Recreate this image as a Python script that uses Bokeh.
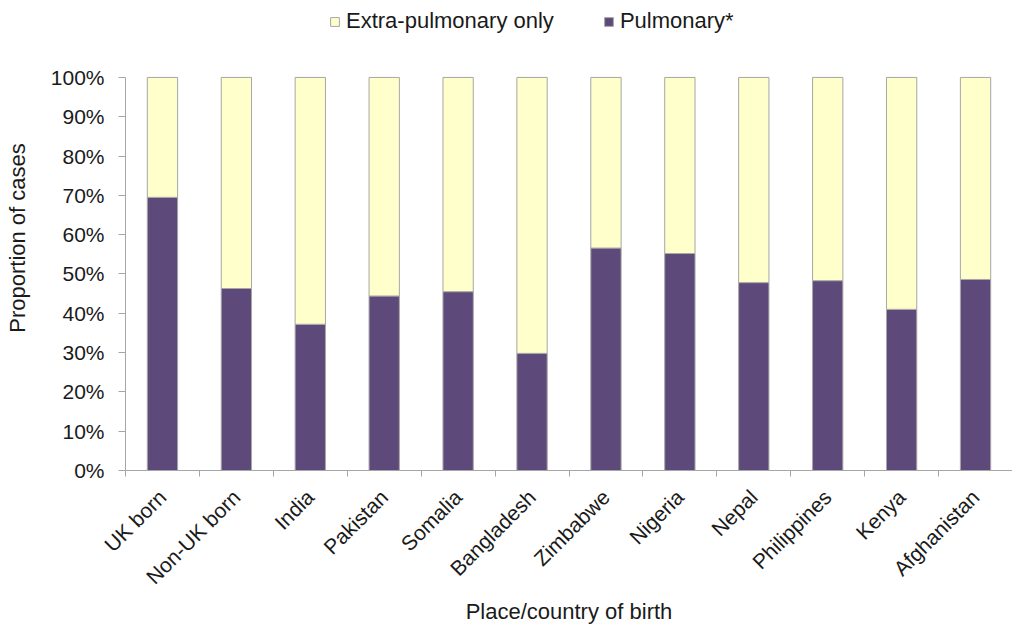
from bokeh.plotting import figure
from bokeh.models import Range1d, FixedTicker, Legend, LegendItem, PrintfTickFormatter, ColumnDataSource
from bokeh.embed import file_html
from bokeh.resources import INLINE
import math

categories = ["UK born", "Non-UK born", "India", "Pakistan", "Somalia", "Bangladesh",
              "Zimbabwe", "Nigeria", "Nepal", "Philippines", "Kenya", "Afghanistan"]
pulmonary = [69.5, 46.3, 37.2, 44.4, 45.5, 29.8, 56.6, 55.2, 47.8, 48.3, 41.0, 48.6]
extra_pulmonary = [30.5, 53.7, 62.8, 55.6, 54.5, 70.2, 43.4, 44.8, 52.2, 51.7, 59.0, 51.4]
y_ticks = [0, 10, 20, 30, 40, 50, 60, 70, 80, 90, 100]

FONT = "Liberation Sans"
PURPLE = "#5e4a7a"
YELLOW = "#ffffcc"
EDGE = "#a6a6a6"
AXIS = "#a6a6a6"
TEXT = "#1a1a1a"

n = len(categories)
xpos = [i + 0.5 for i in range(n)]
src = ColumnDataSource(dict(x=xpos, pulm=pulmonary, extra=extra_pulmonary, cat=categories))

# frame spans from the top (room for the legend) to the x axis; the y axis stops at 100%
p = figure(width=1012, height=628, x_range=Range1d(0, n), y_range=Range1d(0, 118.3),
           output_backend="svg", toolbar_location=None,
           min_border_left=125, min_border_right=0, min_border_top=5, min_border_bottom=158)

r = p.vbar_stack(["pulm", "extra"], x="x", width=0.41, source=src,
                 fill_color=[PURPLE, YELLOW], line_color=EDGE, line_width=1)

p.outline_line_color = None
p.xgrid.visible = False
p.ygrid.visible = False

# x axis
xa = p.xaxis[0]
xa.ticker = FixedTicker(ticks=xpos, minor_ticks=list(range(n + 1)))
xa.major_label_overrides = {x: c for x, c in zip(xpos, categories)}
xa.major_label_orientation = math.pi / 4
xa.major_tick_out = 0
xa.major_tick_in = 0
xa.minor_tick_out = 6
xa.minor_tick_in = 0
xa.minor_tick_line_color = AXIS
xa.axis_line_color = AXIS
xa.major_label_text_font = FONT
xa.major_label_text_font_size = "21px"
xa.major_label_text_color = TEXT
xa.major_label_standoff = 17
xa.axis_label = "Place/country of birth"
xa.axis_label_text_font = FONT
xa.axis_label_text_font_size = "22px"
xa.axis_label_text_font_style = "normal"
xa.axis_label_text_color = TEXT
xa.axis_label_standoff = 0

# y axis
ya = p.yaxis[0]
ya.ticker = FixedTicker(ticks=y_ticks)
ya.formatter = PrintfTickFormatter(format="%d%%")
ya.bounds = (0, 100)
ya.major_tick_out = 7
ya.major_tick_in = 0
ya.minor_tick_out = 0
ya.minor_tick_in = 0
ya.major_tick_line_color = AXIS
ya.axis_line_color = AXIS
ya.major_label_text_font = FONT
ya.major_label_text_font_size = "21px"
ya.major_label_text_color = TEXT
ya.major_label_standoff = 14
ya.axis_label = "Proportion of cases"
ya.axis_label_text_font = FONT
ya.axis_label_text_font_size = "22px"
ya.axis_label_text_font_style = "normal"
ya.axis_label_text_color = TEXT
ya.axis_label_standoff = 18

legend = Legend(items=[LegendItem(label="Extra-pulmonary only", renderers=[r[1]]),
                       LegendItem(label="Pulmonary*", renderers=[r[0]])],
                orientation="horizontal", location=(204, 436),
                glyph_width=11, glyph_height=11, label_standoff=6, spacing=49,
                padding=4, margin=0, border_line_color=None, background_fill_alpha=0,
                label_text_font=FONT, label_text_font_size="22px", label_text_color=TEXT)
p.add_layout(legend, "center")

open("out.html", "w").write(file_html(p, INLINE))
